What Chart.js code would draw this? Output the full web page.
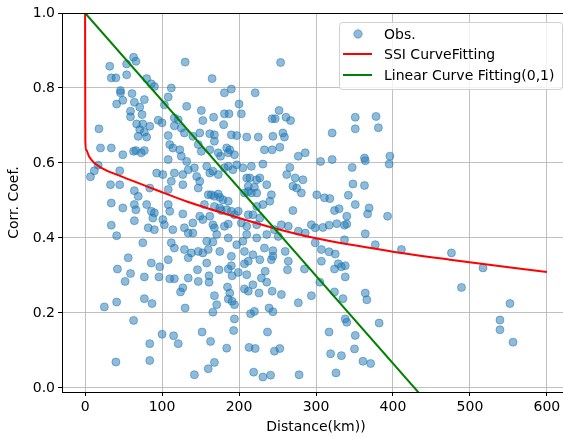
<!DOCTYPE html>
<html>
<head>
<meta charset="utf-8">
<script src="https://cdn.jsdelivr.net/npm/chart.js@4/dist/chart.umd.min.js"></script>
<style>
body { margin: 0; overflow: hidden; background: #fff; }
#wrap { width: 580px; height: 437px; }
</style>
</head>
<body>
<div id="wrap"><canvas id="chart" width="580" height="437"></canvas></div>
<script>
// observed points: [distance (km), correlation coefficient]
var obsPoints = [
  [63,0.882],[66,0.871],[54,0.864],[32,0.858],[130,0.869],[34,0.827],[40,0.827],[54,0.835],[80,0.825],[86,0.811],
  [90,0.804],[112,0.800],[46,0.793],[46,0.787],[61,0.785],[108,0.776],[49,0.767],[77,0.769],[41,0.757],[64,0.762],
  [71,0.749],[103,0.755],[132,0.751],[59,0.738],[74,0.729],[59,0.723],[95,0.714],[100,0.707],[116,0.720],[121,0.715],
  [67,0.704],[75,0.704],[84,0.698],[116,0.699],[125,0.693],[18,0.691],[71,0.689],[77,0.682],[69,0.671],[80,0.669],
  [108,0.673],[129,0.680],
  [254,0.868],[165,0.825],[181,0.787],[190,0.797],[221,0.787],[151,0.740],[200,0.757],[203,0.731],[153,0.713],[167,0.722],
  [181,0.731],[187,0.731],[180,0.702],[252,0.740],[243,0.718],[247,0.718],[261,0.722],[267,0.713],[257,0.680],[259,0.669],
  [149,0.680],[162,0.678],[168,0.675],[190,0.675],[197,0.673],[210,0.669],[225,0.669],
  [351,0.722],[378,0.724],[351,0.691],[381,0.694],[321,0.680],
  [20,0.640],[34,0.640],[49,0.622],[63,0.631],[66,0.633],[73,0.627],[77,0.633],[110,0.649],[114,0.640],[123,0.635],
  [125,0.618],[108,0.609],[132,0.604],[17,0.594],[12,0.579],[7,0.563],[45,0.579],[93,0.573],[101,0.569],[116,0.573],
  [112,0.551],[127,0.569],[127,0.542],[33,0.542],[45,0.542],[64,0.526],[69,0.511],[84,0.533],[108,0.529],[34,0.493],
  [49,0.480],[64,0.489],[66,0.475],[80,0.489],[86,0.471],[90,0.467],[108,0.489],[110,0.471],[127,0.464],[64,0.446],
  [88,0.453],[101,0.449],[34,0.434],[41,0.406],[82,0.427],[90,0.422],[103,0.435],[114,0.422],[129,0.427],[75,0.387],
  [112,0.387],[116,0.373],[129,0.369],[56,0.347],[86,0.333],[108,0.342],
  [42,0.317],[59,0.305],[52,0.284],[77,0.296],[97,0.323],[96,0.296],[110,0.291],[116,0.291],[127,0.267],[124,0.256],
  [134,0.293],[25,0.216],[41,0.229],[77,0.238],[87,0.225],[130,0.213],[63,0.180],[100,0.143],[115,0.139],[121,0.118],
  [84,0.118],[40,0.069],[84,0.073],
  [146,0.315],[147,0.284],[158,0.333],[161,0.299],[161,0.282],[174,0.315],[186,0.317],[190,0.326],[191,0.299],[199,0.308],
  [207,0.331],[210,0.302],[212,0.338],[185,0.269],[188,0.253],[186,0.237],[191,0.231],[194,0.222],[168,0.246],[171,0.222],
  [166,0.202],[207,0.264],[212,0.258],[218,0.275],[226,0.253],[229,0.293],[234,0.311],[236,0.282],[243,0.258],[255,0.249],
  [242,0.342],[263,0.315],[264,0.338],[277,0.227],[294,0.246],[285,0.317],[215,0.198],[220,0.204],[239,0.213],[244,0.203],
  [194,0.184],[193,0.153],[152,0.149],[163,0.124],[184,0.106],[213,0.108],[221,0.105],[237,0.149],[246,0.098],[253,0.105],
  [168,0.068],[160,0.051],[142,0.035],[219,0.042],[231,0.029],[241,0.034],[278,0.035],
  [307,0.338],[329,0.331],[333,0.323],[338,0.326],[324,0.317],[338,0.296],[305,0.282],[324,0.256],[335,0.238],[364,0.253],
  [366,0.235],[338,0.184],[340,0.175],[382,0.173],[317,0.149],[351,0.140],[319,0.091],[333,0.086],[350,0.104],[361,0.071],
  [371,0.065],[326,0.040],
  [517,0.320],[489,0.268],[552,0.225],[539,0.181],[539,0.155],[556,0.122],[476,0.360],
  [306,0.604],[321,0.609],[363,0.613],[364,0.606],[396,0.618],[395,0.597],[347,0.588],[348,0.544],[363,0.540],[301,0.515],
  [311,0.507],[318,0.505],[342,0.514],[351,0.489],[369,0.480],[367,0.464],[324,0.473],[330,0.478],[340,0.458],[393,0.458],
  [309,0.428],[317,0.434],[327,0.438],[337,0.434],[340,0.437],[364,0.411],[337,0.395],[377,0.382],[411,0.369],[299,0.387],
  [307,0.369],[317,0.363],[325,0.357],
  [140,0.671],[168,0.658],[244,0.671],
  [147,0.649],[151,0.631],[162,0.635],[173,0.627],[176,0.618],[184,0.640],[188,0.635],[186,0.627],[194,0.622],
  [233,0.635],[243,0.635],[253,0.642],[277,0.618],[286,0.627],
  [134,0.582],[142,0.587],[145,0.564],[149,0.551],[158,0.591],[162,0.573],[166,0.578],[173,0.569],
  [181,0.587],[186,0.591],[192,0.582],[197,0.595],[205,0.587],[216,0.591],[231,0.597],[266,0.588],[262,0.569],[273,0.560],[283,0.555],
  [210,0.560],[214,0.560],[223,0.555],[227,0.560],[212,0.538],[220,0.535],[236,0.542],[270,0.538],[275,0.533],[281,0.520],
  [147,0.533],[160,0.515],[164,0.515],[168,0.511],[173,0.517],[175,0.508],[179,0.502],[186,0.498],[155,0.489],[168,0.484],
  [175,0.480],[177,0.473],[184,0.475],[190,0.471],
  [207,0.520],[212,0.524],[216,0.520],[223,0.520],[242,0.515],[240,0.498],[223,0.484],[231,0.489],
  [149,0.458],[153,0.449],[162,0.458],[140,0.440],[166,0.435],[168,0.427],[181,0.431],[186,0.437],
  [199,0.471],[194,0.462],[212,0.462],[218,0.462],[227,0.453],[203,0.440],[210,0.431],[223,0.435],
  [270,0.473],[294,0.435],[299,0.427],[277,0.418],[286,0.413],[255,0.435],[264,0.431],
  [134,0.413],[140,0.413],[171,0.409],[186,0.400],[158,0.391],[166,0.389],[197,0.382],[205,0.391],[210,0.409],[223,0.400],
  [236,0.409],[246,0.422],[251,0.404],
  [138,0.360],[147,0.364],[153,0.360],[160,0.369],[134,0.347],[175,0.364],[190,0.351],[207,0.364],[218,0.355],[233,0.373],
  [244,0.366],[260,0.364],[227,0.342],[244,0.351]
];

// SSI curve fitting
var ssiDist = [0, 0.3, 1.5, 5, 12, 25, 47, 90, 134, 199, 246, 300, 398, 474, 600];
var ssiCorr = [1.0, 0.66, 0.635, 0.618, 0.600, 0.583, 0.564, 0.530, 0.496, 0.454, 0.426, 0.399, 0.364, 0.342, 0.309];

// linear fit through (0,1)
var linDist = [0, 600];
var linCorr = [1.0, -0.402];

var xTicks = [0, 100, 200, 300, 400, 500, 600];
var yTicks = [0.0, 0.2, 0.4, 0.6, 0.8, 1.0];
var legendLabels = ['Obs.', 'SSI CurveFitting', 'Linear Curve Fitting(0,1)'];

var FONT = 'DejaVu Sans';
var blue = 'rgba(31,119,180,0.5)';

function toXY(xs, ys) {
    var out = [];
    for (var i = 0; i < xs.length; i++) out.push({x: xs[i], y: ys[i]});
    return out;
}

// legend box inside the plot + top/right spines
var insideLegend = {
    id: 'insideLegend',
    afterDatasetsDraw: function(chart) {
        var ctx = chart.ctx;
        var a = chart.chartArea;
        ctx.save();
        ctx.strokeStyle = '#000';
        ctx.lineWidth = 1;
        ctx.beginPath();
        ctx.moveTo(a.left, a.top + 0.5);
        ctx.lineTo(a.right, a.top + 0.5);
        ctx.moveTo(a.right - 0.5, a.top);
        ctx.lineTo(a.right - 0.5, a.bottom);
        ctx.stroke();

        var bw = 223, bh = 67;
        var bx = a.right - 8 - bw, by = a.top + 9;
        ctx.beginPath();
        ctx.roundRect(bx + 0.5, by + 0.5, bw, bh, 3);
        ctx.fillStyle = 'rgba(255,255,255,0.8)';
        ctx.fill();
        ctx.strokeStyle = '#d0d0d0';
        ctx.stroke();

        var rows = [by + 12, by + 32, by + 53];
        var lx = bx + 4, tx = bx + 45;
        // marker
        ctx.beginPath();
        ctx.arc(lx + 15, rows[0], 4.2, 0, Math.PI * 2);
        ctx.fillStyle = blue;
        ctx.fill();
        ctx.strokeStyle = blue;
        ctx.stroke();
        // lines
        ctx.lineWidth = 2;
        ctx.strokeStyle = '#ff0000';
        ctx.beginPath(); ctx.moveTo(lx, rows[1]); ctx.lineTo(lx + 29, rows[1]); ctx.stroke();
        ctx.strokeStyle = '#008000';
        ctx.beginPath(); ctx.moveTo(lx, rows[2]); ctx.lineTo(lx + 29, rows[2]); ctx.stroke();

        ctx.fillStyle = '#000';
        ctx.font = '14px "' + FONT + '"';
        ctx.textBaseline = 'middle';
        ctx.textAlign = 'left';
        for (var i = 0; i < legendLabels.length; i++) {
            ctx.fillText(legendLabels[i], tx, rows[i] + 1);
        }
        ctx.restore();
    }
};

new Chart(document.getElementById('chart'), {
    type: 'scatter',
    data: {
        datasets: [
            {
                label: legendLabels[2],
                data: toXY(linDist, linCorr),
                showLine: true,
                borderColor: '#008000',
                borderWidth: 2,
                pointRadius: 0
            },
            {
                label: legendLabels[1],
                data: toXY(ssiDist, ssiCorr),
                showLine: true,
                borderColor: '#ff0000',
                borderWidth: 2,
                pointRadius: 0,
                cubicInterpolationMode: 'monotone'
            },
            {
                label: legendLabels[0],
                data: obsPoints.map(function(p) { return {x: p[0], y: p[1]}; }),
                backgroundColor: blue,
                borderColor: blue,
                borderWidth: 1,
                pointRadius: 4
            }
        ]
    },
    options: {
        responsive: false,
        animation: false,
        devicePixelRatio: 1,
        layout: { padding: { top: 13, right: 10, left: 0, bottom: 0 } },
        plugins: {
            legend: { display: false },
            tooltip: { enabled: false }
        },
        scales: {
            x: {
                type: 'linear',
                min: -30,
                max: 630,
                afterBuildTicks: function(s) { s.ticks = xTicks.map(function(v) { return {value: v}; }); },
                afterFit: function(s) { s.height = 45; s.paddingLeft = 0; s.paddingRight = 0; },
                ticks: {
                    color: '#000',
                    padding: 3,
                    maxRotation: 0,
                    font: { family: FONT, size: 14 },
                    callback: function(v) { return String(v); }
                },
                grid: { color: '#b0b0b0', lineWidth: 0.8, tickLength: 4, tickColor: '#000', tickWidth: 1 },
                border: { color: '#000', width: 1 },
                title: {
                    display: true,
                    text: 'Distance(km))',
                    color: '#000',
                    font: { family: FONT, size: 14 },
                    padding: { top: 0, bottom: 1 }
                }
            },
            y: {
                type: 'linear',
                min: -0.011,
                max: 1.0,
                afterBuildTicks: function(s) { s.ticks = yTicks.map(function(v) { return {value: v}; }); },
                afterFit: function(s) { s.width = 62; },
                ticks: {
                    color: '#000',
                    padding: 3,
                    font: { family: FONT, size: 14 },
                    callback: function(v) { return v.toFixed(1); }
                },
                grid: { color: '#b0b0b0', lineWidth: 0.8, tickLength: 4, tickColor: '#000', tickWidth: 1 },
                border: { color: '#000', width: 1 },
                title: {
                    display: true,
                    text: 'Corr. Coef.',
                    color: '#000',
                    font: { family: FONT, size: 14 },
                    padding: { top: 6, bottom: 0 }
                }
            }
        }
    },
    plugins: [insideLegend]
});
</script>
</body>
</html>
